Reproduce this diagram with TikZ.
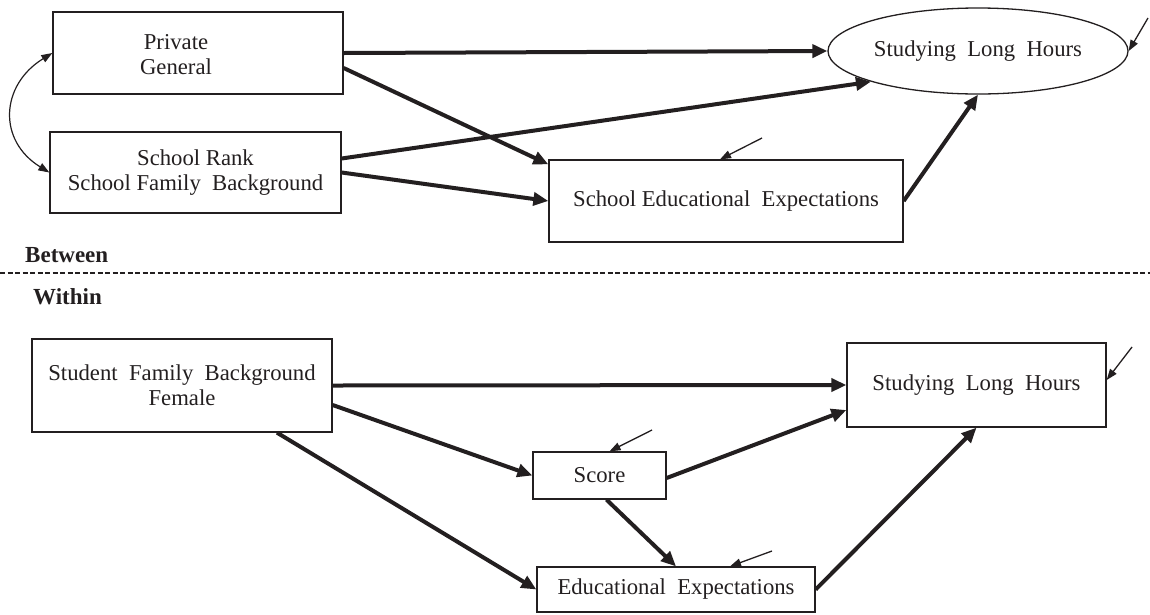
\documentclass[tikz,border=0pt]{standalone}
\usepackage{fontspec}
\setmainfont{Liberation Serif}
\usetikzlibrary{arrows.meta,shapes.geometric,calc}
\definecolor{ink}{HTML}{231F20}
\begin{document}
\begin{tikzpicture}[x=1pt,y=-1pt,
  font=\fontsize{22.7}{25}\selectfont,
  box/.style={draw=ink, line width=1.3pt, rectangle, inner sep=0pt, text=ink, align=center},
  oval/.style={draw=ink, line width=1.3pt, ellipse, inner sep=0pt, text=ink},
  lbl/.style={text=ink, align=center, inner sep=0pt},
  sectlbl/.style={text=ink, inner sep=0pt, anchor=west, font=\fontsize{23}{25}\selectfont\bfseries},
  patharrow/.style={draw=ink, line width=4pt, -{Triangle[length=15pt,width=13pt]}},
  errarrow/.style={draw=ink, line width=1.3pt, -{Triangle[length=11pt,width=8pt]}},
  covarrow/.style={draw=ink, line width=1.2pt, {Triangle[length=11pt,width=8pt]}-{Triangle[length=11pt,width=8pt]}}
]
\useasboundingbox (0,0) rectangle (1150,614);

% ---- Between level ----
\node[box, minimum width=290pt, minimum height=82pt] (priv) at (198,53) {};
\node[lbl] (privlbl) at (176,55) {Private\\General};
\node[box, minimum width=291pt, minimum height=81pt] (rank) at (195.5,172.5) {School Rank\\School Family~ Background};
\node[oval, minimum width=300pt, minimum height=86pt] (slh1) at (978,51) {Studying~ Long~ Hours};
\node[box, minimum width=354pt, minimum height=82pt] (see) at (726,201) {School Educational~ Expectations};

\coordinate (e1) at (762,138);
\coordinate (e2) at (1148,18);

\draw[patharrow] (priv.east) -- (slh1.west);
\draw[patharrow] ([yshift=-15pt]priv.east) -- ([yshift=-5pt]see.north west);
\draw[patharrow] ([yshift=14pt]rank.east) -- (slh1.196);
\draw[patharrow] (rank.east) -- (see.west);
\draw[patharrow] (see.east) -- (slh1.south);
\draw[errarrow] (e1) -- ([xshift=-6pt]see.north);
\draw[errarrow] (e2) -- (slh1.east);
\draw[covarrow] (priv.west) .. controls ($(priv.west)+(-52,32)$) and ($(rank.west)+(-52,-32)$) .. (rank.west);

% ---- divider ----
\node[sectlbl] (between) at (25,255) {Between};
\coordinate (dl) at (0,273);
\coordinate (dr) at (1150,273);
\draw[ink, line width=1.3pt, dash pattern=on 5pt off 2.5pt] (dl) -- (dr);
\node[sectlbl] (within) at (33,297) {Within};

% ---- Within level ----
\node[box, minimum width=300pt, minimum height=93pt] (stu) at (182,385.5) {Student~ Family~ Background\\Female};
\node[box, minimum width=259pt, minimum height=84pt] (slh2) at (976.5,385) {Studying~ Long~ Hours};
\node[box, minimum width=133pt, minimum height=47pt] (score) at (599.5,475.5) {Score};
\node[box, minimum width=278pt, minimum height=45pt] (ee) at (676,589.5) {Educational~ Expectations};

\coordinate (e3) at (652,430);
\coordinate (e4) at (772,551);
\coordinate (e5) at (1132,347);

\draw[patharrow] (stu.east) -- (slh2.west);
\draw[patharrow] ([yshift=-19.5pt]stu.east) -- (score.west);
\draw[patharrow] ([xshift=95pt]stu.south) -- (ee.west);
\draw[patharrow] ([yshift=-2.5pt]score.east) -- ([yshift=-25pt]slh2.west);
\draw[patharrow] ([xshift=7pt]score.south) -- (ee.north);
\draw[patharrow] (ee.east) -- (slh2.south);
\draw[errarrow] (e3) -- ([xshift=10pt]score.north);
\draw[errarrow] (e4) -- ([xshift=54pt]ee.north);
\draw[errarrow] (e5) -- ([yshift=5pt]slh2.east);
\end{tikzpicture}
\end{document}
